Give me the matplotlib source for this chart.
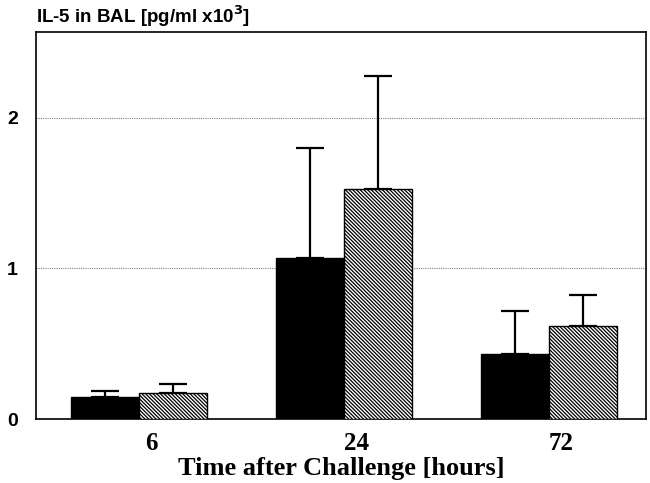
import matplotlib.pyplot as plt
import numpy as np

# valeurs (pg/ml x10^3)
temps = ['6', '24', '72']
noir = [0.145, 1.07, 0.43]
noir_err = [0.04, 0.73, 0.29]
hachure = [0.17, 1.53, 0.62]
hachure_err = [0.06, 0.75, 0.20]

plt.rcParams['hatch.linewidth'] = 0.9

fig = plt.figure(figsize=(6.5, 4.83), dpi=100)
ax = fig.add_axes([0.055, 0.1325, 0.939, 0.8015])

x = np.arange(len(temps))
w = 0.332

ax.bar(x - w / 2, noir, w, color='black', edgecolor='black', linewidth=1, zorder=3)
ax.errorbar(x - w / 2, noir, yerr=[np.zeros(3), noir_err], fmt='none', ecolor='black',
            elinewidth=1.6, capsize=10, capthick=1.6, zorder=2)
ax.bar(x + w / 2, hachure, w, color='white', edgecolor='black', hatch='\\' * 9,
       linewidth=1, zorder=3)
ax.errorbar(x + w / 2, hachure, yerr=[np.zeros(3), hachure_err], fmt='none', ecolor='black',
            elinewidth=1.6, capsize=10, capthick=1.6, zorder=2)

ax.set_xlim(-0.502, 2.473)
ax.set_ylim(0, 2.57)

ax.yaxis.grid(True, linestyle=(0, (1, 1)), color='gray', linewidth=0.8, zorder=0)
ax.set_yticks([0, 1, 2])
ax.set_yticklabels(['0', '1', '2'], fontfamily='Liberation Sans', fontweight='bold', fontsize=14)
ax.set_xticks(x + 0.06)
ax.set_xticklabels(temps, fontfamily='Liberation Serif', fontweight='bold', fontsize=18)
ax.tick_params(axis='both', length=0)
ax.tick_params(axis='y', pad=13)
ax.tick_params(axis='x', pad=9)

for s in ax.spines.values():
    s.set_linewidth(1.2)

ax.set_xlabel('Time after Challenge [hours]', fontfamily='Liberation Serif',
              fontweight='bold', fontsize=19, labelpad=2)
fig.text(0.055, 0.94, r'IL-5 in BAL [pg/ml x10$^{\mathbf{3}}$]', fontfamily='Liberation Sans',
         fontweight='bold', fontsize=13.5, ha='left', va='bottom')

plt.savefig('out.png', dpi=100)
